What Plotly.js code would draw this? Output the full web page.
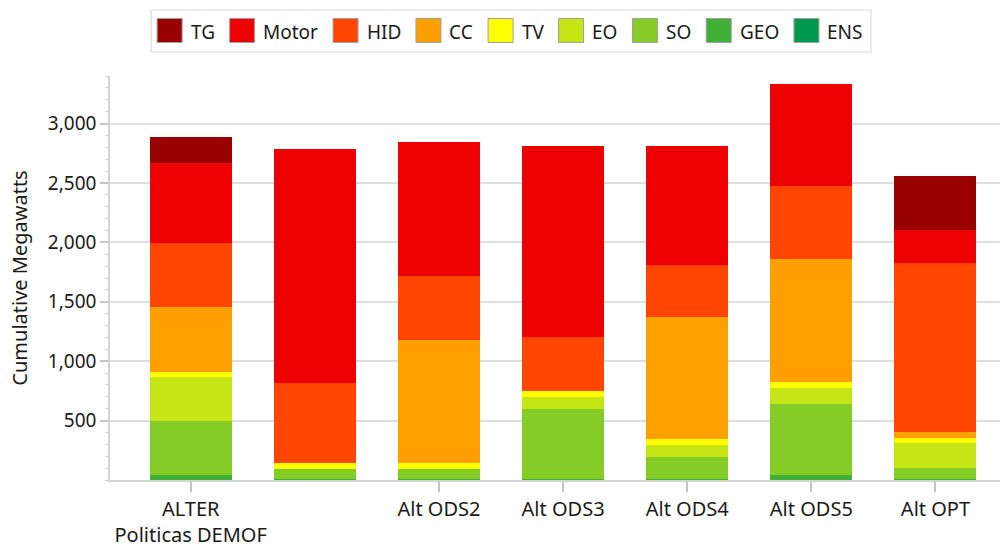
<!DOCTYPE html>
<html>
<head>
<meta charset="utf-8">
<script src="https://cdn.plot.ly/plotly-3.0.1.min.js"></script>
<style>
  html, body { margin: 0; padding: 0; background: #ffffff; }
  #chart { width: 1004px; height: 547px; }
</style>
</head>
<body>
<div id="chart"></div>
<script>
// ---- Data ----
const categories = ["ALTER Politicas DEMOF", " ", "Alt ODS2", "Alt ODS3", "Alt ODS4", "Alt ODS5", "Alt OPT"];
const tickLabels = ["ALTER<br>Politicas DEMOF", "", "Alt ODS2", "Alt ODS3", "Alt ODS4", "Alt ODS5", "Alt OPT"];

// stacked bottom -> top
const ENS   = [0, 0, 0, 0, 0, 0, 0];
const GEO   = [40, 8, 8, 8, 8, 42, 8];
const SO    = [455, 88, 88, 588, 189, 596, 91];
const EO    = [370, 0, 0, 103, 98, 135, 213];
const TV    = [48, 47, 47, 48, 48, 56, 39];
const CC    = [540, 0, 1034, 0, 1031, 1031, 53];
const HID   = [544, 672, 537, 458, 435, 615, 1425];
const Motor = [672, 1968, 1132, 1604, 1000, 857, 275];
const TG    = [216, 0, 0, 0, 0, 0, 455];

const seriesNames  = ["ENS", "GEO", "SO", "EO", "TV", "CC", "HID", "Motor", "TG"];
const seriesValues = [ENS, GEO, SO, EO, TV, CC, HID, Motor, TG];
const seriesColors = ["#00994f", "#41b037", "#86cc26", "#c5e614", "#ffff00", "#ffa000", "#ff4500", "#ee0000", "#990000"];
const legendOrder  = ["TG", "Motor", "HID", "CC", "TV", "EO", "SO", "GEO", "ENS"];

const yTickVals = [500, 1000, 1500, 2000, 2500, 3000];

// ---- Layout constants ----
const W = 1004, H = 547;
const M = { l: 110, r: 4, t: 76, b: 67 };
const plotW = W - M.l - M.r, plotH = H - M.t - M.b;
const FONT = '"Noto Sans", "Open Sans", sans-serif';
const TXT = '#1a1a1a';

const traces = seriesNames.map((name, i) => ({
  type: 'bar',
  name: name,
  x: categories,
  y: seriesValues[i],
  marker: { color: seriesColors[i], line: { width: 0 } },
  showlegend: false,
  hovertemplate: name + ': %{y:,}<extra></extra>'
}));

// ---- custom legend (large square swatches, boxed) ----
const canvas = document.createElement('canvas');
const ctx = canvas.getContext('2d');
const legFontSize = 19;
ctx.font = legFontSize + 'px "Noto Sans"';
const sw = 25, swGap = 7.5, itemGap = 16, padL = 6, padR = 9;
const widths = legendOrder.map(n => ctx.measureText(n).width);
let total = padL + padR;
widths.forEach((w, i) => { total += sw + swGap + w + (i < widths.length - 1 ? itemGap : 0); });
const centerX = 511;
const boxL = centerX - total / 2, boxR = centerX + total / 2;
const boxT = 10, boxB = 52, rowY = 30.5;
const px2x = px => (px - M.l) / plotW;
const px2y = py => (H - M.b - py) / plotH;

const shapes = [{
  type: 'rect', xref: 'paper', yref: 'paper',
  x0: px2x(boxL), x1: px2x(boxR), y0: px2y(boxB), y1: px2y(boxT),
  line: { color: '#d9d9d9', width: 1.2 }, fillcolor: '#ffffff', layer: 'above'
}];
const annotations = [];
let cx = boxL + padL;
legendOrder.forEach((n, i) => {
  const idx = seriesNames.indexOf(n);
  shapes.push({
    type: 'rect', xref: 'paper', yref: 'paper',
    x0: px2x(cx), x1: px2x(cx + sw), y0: px2y(rowY + 12), y1: px2y(rowY - 12),
    line: { color: '#a0a0a0', width: 1 }, fillcolor: seriesColors[idx], layer: 'above'
  });
  annotations.push({
    xref: 'paper', yref: 'paper', x: px2x(cx + sw + swGap - 1), y: px2y(rowY + 1),
    xanchor: 'left', yanchor: 'middle', showarrow: false, text: n,
    font: { family: FONT, size: legFontSize, color: TXT }
  });
  cx += sw + swGap + widths[i] + itemGap;
});

const layout = {
  width: W, height: H,
  margin: M,
  paper_bgcolor: '#ffffff', plot_bgcolor: '#ffffff',
  barmode: 'stack',
  bargap: 0.34,
  showlegend: false,
  font: { family: FONT, color: TXT },
  xaxis: {
    type: 'category',
    range: [-0.65, 6.52],
    tickmode: 'array',
    tickvals: categories.filter((c, i) => tickLabels[i] !== ''),
    ticktext: tickLabels.filter(t => t !== ''),
    ticks: 'outside', ticklen: 10, tickcolor: '#c4c4c4', tickwidth: 1.5,
    showline: true, linecolor: '#d4d4d4', linewidth: 1.5,
    showgrid: false, zeroline: false,
    tickfont: { family: FONT, size: 20, color: TXT }
  },
  yaxis: {
    range: [0, 3400],
    tickmode: 'array',
    tickvals: yTickVals,
    tickformat: ',d',
    ticks: 'outside', ticklen: 8, tickcolor: '#c4c4c4', tickwidth: 1.5,
    minor: { tickmode: 'linear', tick0: 0, dtick: 100, ticks: 'outside', ticklen: 3, tickcolor: '#d0d0d0', tickwidth: 1, showgrid: false },
    showline: true, linecolor: '#d4d4d4', linewidth: 1.5,
    showgrid: true, gridcolor: '#dedede', gridwidth: 1.5,
    zeroline: false,
    tickfont: { family: FONT, size: 19, color: TXT },
    title: { text: 'Cumulative Megawatts', font: { family: FONT, size: 20, color: TXT }, standoff: 15 }
  },
  shapes: shapes,
  annotations: annotations
};

Plotly.newPlot('chart', traces, layout, { displayModeBar: false, responsive: false });
</script>
</body>
</html>
